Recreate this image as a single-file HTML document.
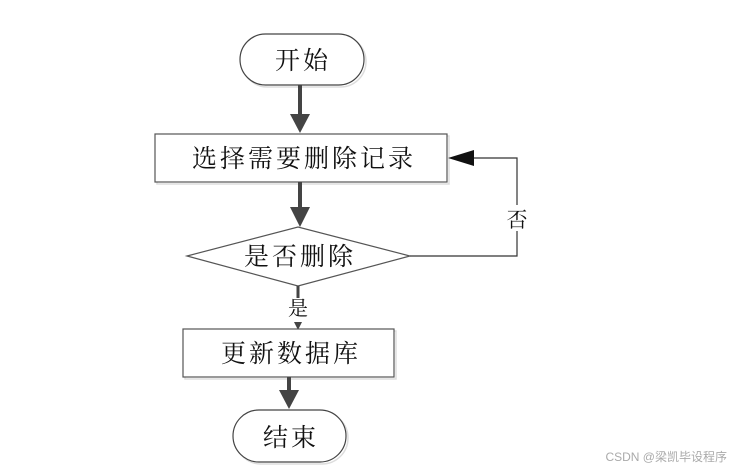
<!DOCTYPE html>
<html><head><meta charset="utf-8"><style>
body{margin:0;background:#fff;width:731px;height:469px;overflow:hidden}
text{font-family:"Liberation Serif","Noto Serif CJK SC","Noto Sans CJK SC",serif;fill:#111}
.b{font-size:25px;letter-spacing:3px}
</style></head><body>
<svg width="731" height="469" viewBox="0 0 731 469" xmlns="http://www.w3.org/2000/svg">
<rect x="242" y="36" width="124" height="51" rx="25.5" fill="none" stroke="#ddd" stroke-width="1.5"/>
<rect x="240" y="34" width="124" height="51" rx="25.5" fill="#fff" stroke="#444" stroke-width="1.2"/>
<text class="b" x="303" y="69" text-anchor="middle">开始</text>
<line x1="300" y1="85" x2="300" y2="116" stroke="#444" stroke-width="4"/>
<polygon points="290,114 310,114 300,133" fill="#444"/>
<rect x="157" y="136" width="292" height="48" fill="none" stroke="#ddd" stroke-width="1.5"/>
<rect x="155" y="134" width="292" height="48" fill="#fff" stroke="#555" stroke-width="1.2"/>
<text class="b" x="304" y="167" text-anchor="middle">选择需要删除记录</text>
<line x1="300" y1="182" x2="300" y2="210" stroke="#444" stroke-width="4"/>
<polygon points="290,207 310,207 300,227" fill="#444"/>
<polygon points="187,256 298,227 410,256 298,286" fill="#fff" stroke="#555" stroke-width="1.2"/>
<text class="b" x="300" y="265" text-anchor="middle">是否删除</text>
<polyline points="410,256 517,256 517,158 470,158" fill="none" stroke="#333" stroke-width="1.2"/>
<polygon points="448,158 474,150 474,166" fill="#111"/>
<rect x="505" y="205" width="24" height="26" fill="#fff"/>
<text x="517" y="227" font-size="21" text-anchor="middle">否</text>
<line x1="298" y1="286" x2="298" y2="298" stroke="#444" stroke-width="3"/>
<text x="298" y="315" font-size="20" text-anchor="middle">是</text>
<polygon points="294,322 302,322 298,330" fill="#444"/>
<rect x="185" y="331" width="211" height="48" fill="none" stroke="#ddd" stroke-width="1.5"/>
<rect x="183" y="329" width="211" height="48" fill="#fff" stroke="#555" stroke-width="1.2"/>
<text class="b" x="291" y="362" text-anchor="middle">更新数据库</text>
<line x1="289" y1="377" x2="289" y2="392" stroke="#444" stroke-width="4"/>
<polygon points="279,390 299,390 289,409" fill="#444"/>
<rect x="235" y="412" width="113" height="52" rx="26" fill="none" stroke="#ddd" stroke-width="1.5"/>
<rect x="233" y="410" width="113" height="52" rx="26" fill="#fff" stroke="#444" stroke-width="1.2"/>
<text class="b" x="291" y="446" text-anchor="middle">结束</text>
<text x="727" y="461" font-size="12" text-anchor="end" style="font-family:'Liberation Sans','Noto Sans CJK SC',sans-serif;fill:#aaa">CSDN @梁凯毕设程序</text>
</svg>
</body></html>
